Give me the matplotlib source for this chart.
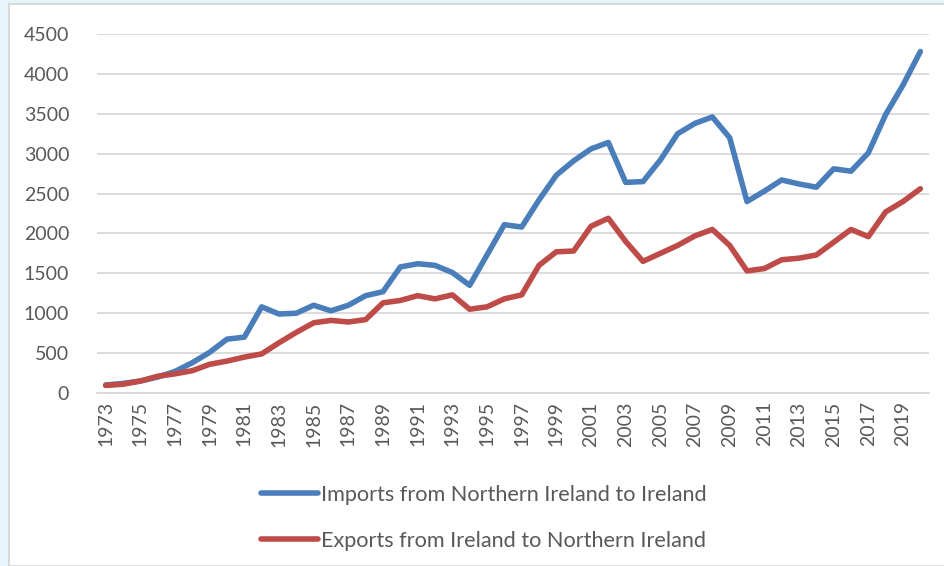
import matplotlib
matplotlib.use("Agg")
import matplotlib.pyplot as plt
from matplotlib.patches import Rectangle

years = list(range(1973, 2021))
imports_ni_to_ie = [100, 120, 150, 200, 270, 380, 510, 675, 700, 1080,
                    990, 1000, 1100, 1030, 1100, 1220, 1270, 1580, 1620, 1600,
                    1510, 1350, 1730, 2110, 2080, 2420, 2730, 2910, 3060, 3140,
                    2640, 2650, 2920, 3250, 3380, 3460, 3200, 2400, 2530, 2670,
                    2620, 2580, 2810, 2780, 3010, 3490, 3860, 4280]
exports_ie_to_ni = [95, 110, 150, 210, 240, 280, 360, 400, 450, 490,
                    630, 760, 880, 910, 890, 920, 1130, 1160, 1220, 1180,
                    1230, 1050, 1080, 1180, 1230, 1600, 1770, 1780, 2090, 2190,
                    1900, 1650, 1750, 1850, 1970, 2050, 1850, 1530, 1560, 1670,
                    1690, 1730, 1890, 2050, 1960, 2270, 2400, 2560]
series_labels = ["Imports from Northern Ireland to Ireland",
                 "Exports from Ireland to Northern Ireland"]
yticks = [0, 500, 1000, 1500, 2000, 2500, 3000, 3500, 4000, 4500]

plt.rcParams['font.family'] = ['Lato', 'DejaVu Sans']

W, H = 945, 566
fig = plt.figure(figsize=(W / 100, H / 100), dpi=100, facecolor='#e6f4fc')
# white chart area with thin gray border
fig.patches.append(Rectangle((9 / W, 0), 1, 1 - 4 / H, transform=fig.transFigure,
                             facecolor='white', edgecolor='#d4d4d4', linewidth=1.2,
                             zorder=-10))

ax = fig.add_axes([97 / W, 1 - 393 / H, (929 - 97) / W, (393 - 34) / H])
ax.set_facecolor('none')
ax.set_zorder(5)

x = list(range(len(years)))
ax.plot(x, imports_ni_to_ie, color='#4a7ebb', linewidth=4, solid_capstyle='round',
        solid_joinstyle='round', label=series_labels[0], zorder=3)
ax.plot(x, exports_ie_to_ni, color='#be4b48', linewidth=4, solid_capstyle='round',
        solid_joinstyle='round', label=series_labels[1], zorder=3)

ax.set_xlim(-0.5, len(years) - 0.5)
ax.set_ylim(0, 4500)
ax.set_yticks(yticks)
ax.set_yticklabels([str(v) for v in yticks])
ax.set_xticks(x[::2])
ax.set_xticklabels([str(y) for y in years[::2]], rotation=90)

ax.grid(axis='y', color='#d9d9d9', linewidth=1.3, zorder=0)
ax.set_axisbelow(True)
for s in ['top', 'right', 'left']:
    ax.spines[s].set_visible(False)
ax.spines['bottom'].set_color('#d9d9d9')
ax.spines['bottom'].set_linewidth(1.3)
ax.tick_params(axis='both', length=0, colors='#595959', labelsize=14)
ax.tick_params(axis='y', pad=20)
ax.tick_params(axis='x', pad=6)

leg = fig.legend(loc='center', bbox_to_anchor=(484 / W, 1 - 518 / H), ncol=1,
                 frameon=False, fontsize=15.6, handlelength=2.6, handletextpad=0.15,
                 labelspacing=1.2, labelcolor='#595959')

fig.savefig('out.png', dpi=100, facecolor=fig.get_facecolor())
